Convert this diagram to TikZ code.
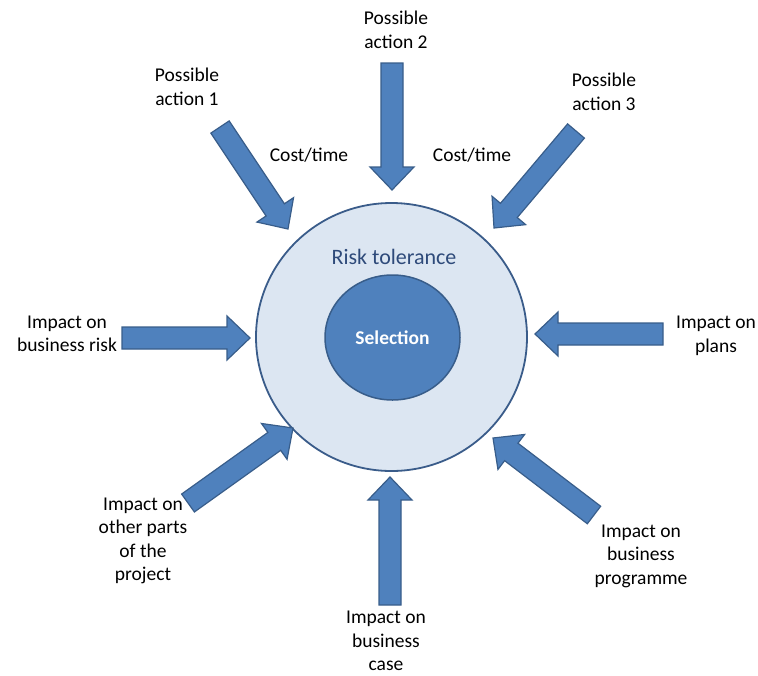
\documentclass[tikz,border=0pt]{standalone}
\usepackage{fontspec}
\setmainfont{Carlito}
\usetikzlibrary{calc,shapes.geometric}

\definecolor{arrowfill}{RGB}{79,129,189}
\definecolor{arrowline}{RGB}{56,93,138}
\definecolor{tolfill}{RGB}{220,230,242}
\definecolor{tolline}{RGB}{58,92,138}
\definecolor{toltext}{RGB}{46,74,122}

% block arrow from a tail coordinate to a tip coordinate
\newcommand{\blockarrow}[2]{%
  \coordinate (#1-#2-h) at ($(#2)!23pt!(#1)$);
  \draw[blockarrowstyle]
    ($(#1)!11pt!90:(#2)$) -- ($(#1-#2-h)!11pt!-90:(#1)$)
    -- ($(#1-#2-h)!22pt!-90:(#1)$) -- (#2)
    -- ($(#1-#2-h)!22pt!90:(#1)$) -- ($(#1-#2-h)!11pt!90:(#1)$)
    -- ($(#1)!11pt!-90:(#2)$) -- cycle;}

\tikzset{
  blockarrowstyle/.style={fill=arrowfill, draw=arrowline, line width=1.2pt, line join=miter},
  lbl/.style={align=center, inner sep=0pt, font=\fontsize{19.5}{23.5}\selectfont},
}

\begin{document}
\begin{tikzpicture}[x=1pt, y=-1pt]
\useasboundingbox (0,0) rectangle (758,675);

% central circles
\node[ellipse, draw=tolline, line width=1.8pt, fill=tolfill,
      minimum width=271pt, minimum height=268pt, inner sep=0pt] (tol) at (391.5,337) {};
\node[ellipse, draw=arrowline, line width=1.5pt, fill=arrowfill,
      minimum width=135pt, minimum height=125pt, inner sep=0pt,
      text=white, font=\fontsize{19.5}{23}\selectfont\bfseries] (sel) at (392.5,337.5) {Selection};
\node[inner sep=0pt, text=toltext, font=\fontsize{22}{26}\selectfont] (toltxt) at (394,257) {Risk tolerance};

% arrow end points
\coordinate (a1t) at (220,127);  \coordinate (a1p) at (288,229);
\coordinate (a2t) at (392,63);   \coordinate (a2p) at (392,190);
\coordinate (a3t) at (576,131);  \coordinate (a3p) at (494,228);
\coordinate (brt) at (122,338);  \coordinate (brp) at (250,338);
\coordinate (plt) at (663,334);  \coordinate (plp) at (535,334);
\coordinate (opt) at (188,503);  \coordinate (opp) at (293,428);
\coordinate (bct) at (390,605);  \coordinate (bcp) at (390,477);
\coordinate (bpt) at (594,515);  \coordinate (bpp) at (493,438);

\blockarrow{a1t}{a1p}
\blockarrow{a2t}{a2p}
\blockarrow{a3t}{a3p}
\blockarrow{brt}{brp}
\blockarrow{plt}{plp}
\blockarrow{opt}{opp}
\blockarrow{bct}{bcp}
\blockarrow{bpt}{bpp}

% labels
\node[lbl] (act1) at (187,87)  {Possible\\action 1};
\node[lbl] (act2) at (396,30)  {Possible\\action 2};
\node[lbl] (act3) at (604,92)  {Possible\\action 3};
\node[lbl] (cost1) at (309,155) {Cost/time};
\node[lbl] (cost2) at (472,155) {Cost/time};
\node[lbl] (brisk) at (67,334)  {Impact on\\business risk};
\node[lbl] (plans) at (716,336) {Impact on\\plans};
\node[lbl] (other) at (143,541) {Impact on\\other parts\\of the\\project};
\node[lbl] (bcase) at (386,641) {Impact on\\business\\case};
\node[lbl] (bprog) at (641,556) {Impact on\\business\\programme};
\end{tikzpicture}
\end{document}
